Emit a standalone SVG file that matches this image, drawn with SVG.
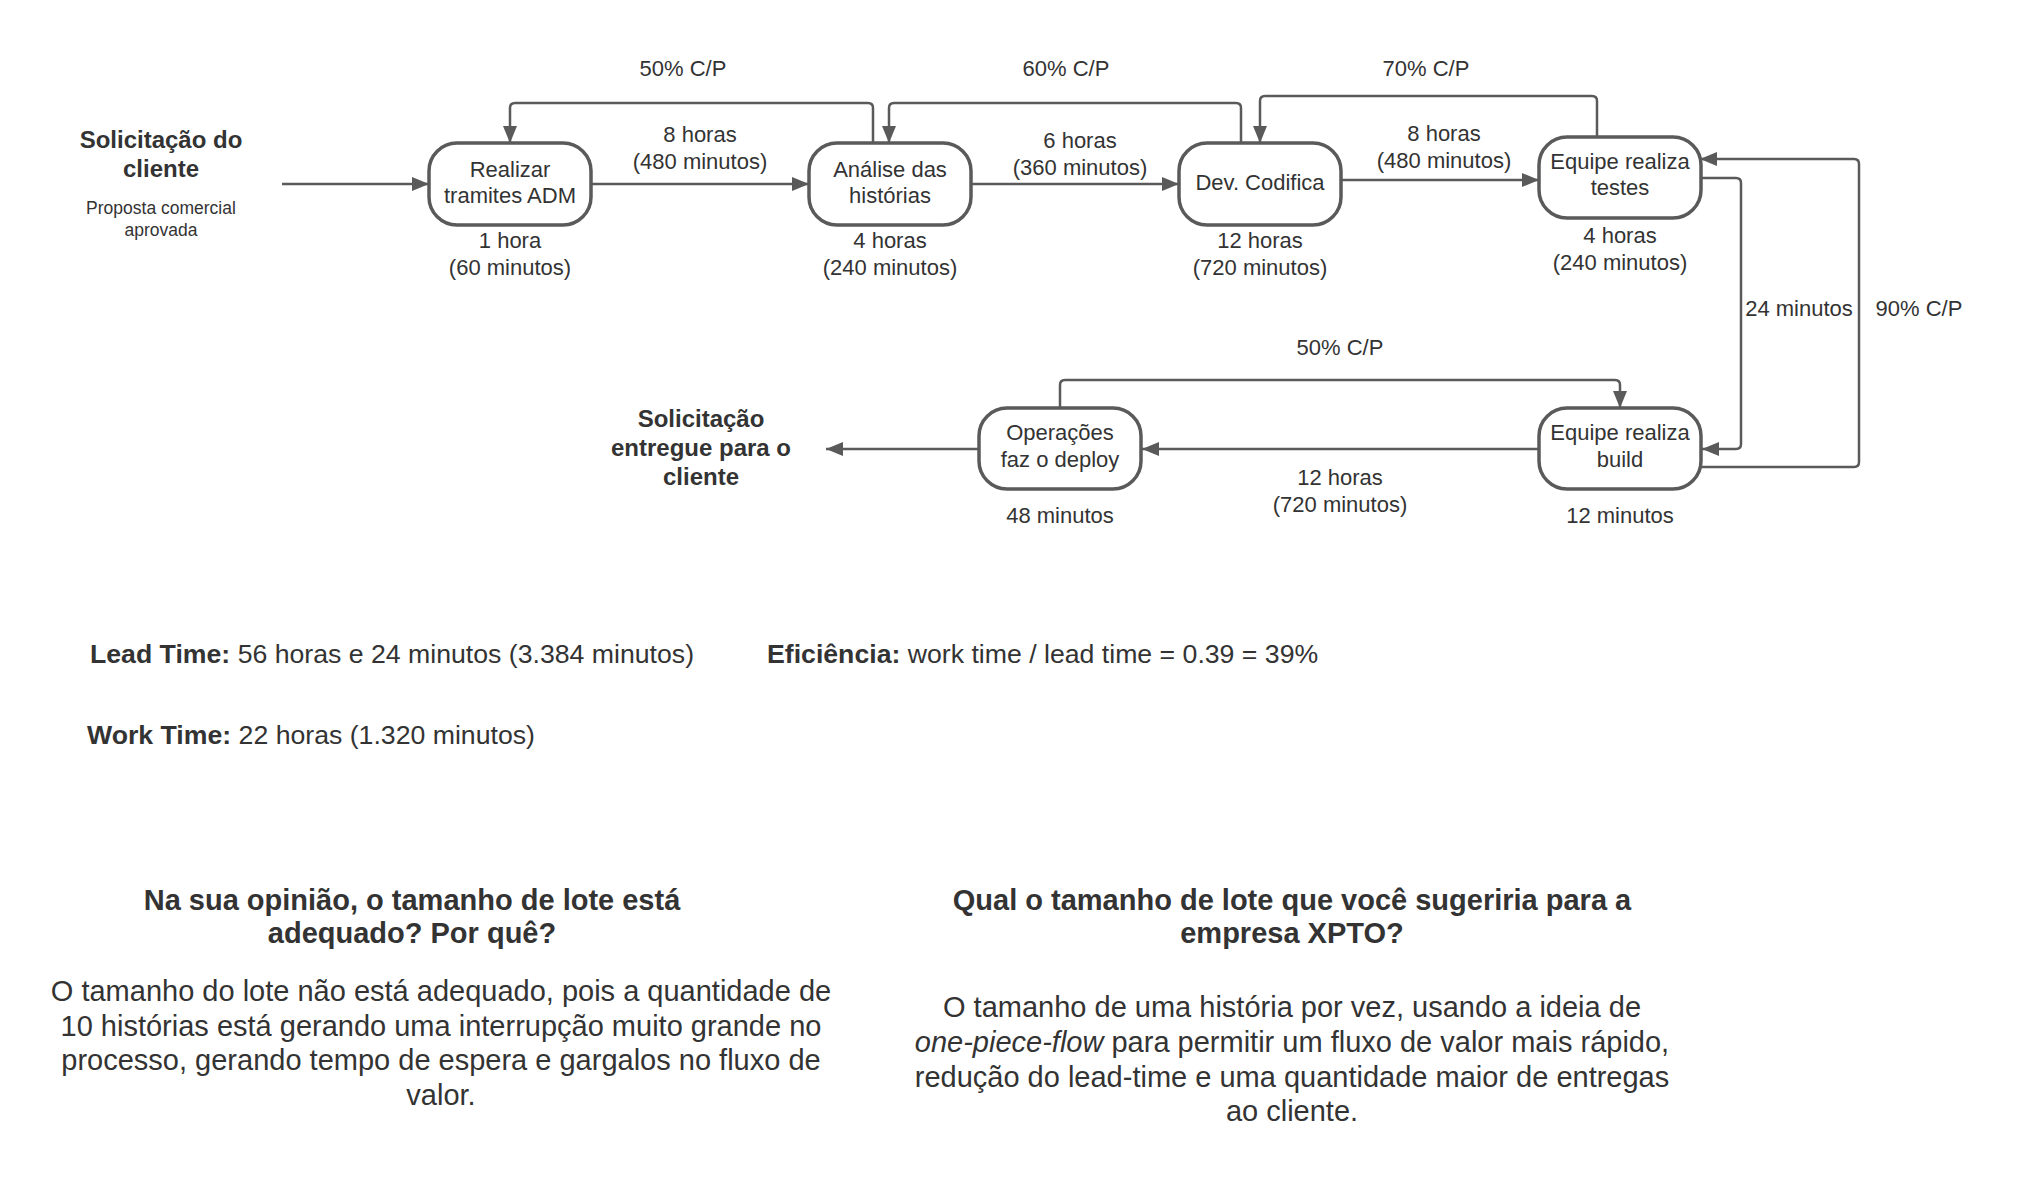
<svg xmlns="http://www.w3.org/2000/svg" width="2040" height="1203" viewBox="0 0 2040 1203">
<style>
text{font-family:"Liberation Sans",Arial,sans-serif;fill:#333333}
.lbl{font-size:22px;text-anchor:middle}
.hd{font-size:24px;font-weight:bold;text-anchor:middle}
.sub{font-size:17.5px;text-anchor:middle}
.big{font-size:26.67px}
.q{font-size:29px;font-weight:bold;text-anchor:middle}
.p{font-size:29px;text-anchor:middle}
.node{fill:#ffffff;stroke:#5a5a5a;stroke-width:3.5}
.con{fill:none;stroke:#5a5a5a;stroke-width:2.5;marker-end:url(#ah)}
</style>
<defs>
<marker id="ah" markerUnits="userSpaceOnUse" markerWidth="18" markerHeight="14" refX="17" refY="7" orient="auto">
<path d="M0,0 L17,7 L0,14 z" fill="#5a5a5a"/>
</marker>
</defs>
<rect width="2040" height="1203" fill="#ffffff"/>

<g id="connectors">
<path class="con" d="M282,184 H429"/>
<path class="con" d="M591,184 H809"/>
<path class="con" d="M971,184 H1179"/>
<path class="con" d="M1341,180 H1539"/>
<path class="con" d="M873,143 V108 Q873,103 868,103 H515 Q510,103 510,108 V143"/>
<path class="con" d="M1241,143 V108 Q1241,103 1236,103 H894 Q889,103 889,108 V143"/>
<path class="con" d="M1597,137 V101 Q1597,96 1592,96 H1265 Q1260,96 1260,101 V143"/>
<path class="con" d="M1701,178 H1736 Q1741,178 1741,183 V444 Q1741,449 1736,449 H1702"/>
<path class="con" d="M1700,467 H1854 Q1859,467 1859,462 V164 Q1859,159 1854,159 H1700"/>
<path class="con" d="M1539,449 H1142"/>
<path class="con" d="M1060,408 V385 Q1060,380 1065,380 H1615 Q1620,380 1620,385 V408"/>
<path class="con" d="M979,449 H826"/>
<text class="lbl" x="683" y="76">50% C/P</text>
<text class="lbl" x="1066" y="76">60% C/P</text>
<text class="lbl" x="1426" y="76">70% C/P</text>
<text class="lbl" x="700" y="142">8 horas</text>
<text class="lbl" x="700" y="169">(480 minutos)</text>
<text class="lbl" x="1080" y="148">6 horas</text>
<text class="lbl" x="1080" y="175">(360 minutos)</text>
<text class="lbl" x="1444" y="141">8 horas</text>
<text class="lbl" x="1444" y="168">(480 minutos)</text>
<text class="lbl" x="1799" y="316">24 minutos</text>
<text class="lbl" x="1919" y="316">90% C/P</text>
<text class="lbl" x="1340" y="355">50% C/P</text>
<text class="lbl" x="1340" y="485">12 horas</text>
<text class="lbl" x="1340" y="512">(720 minutos)</text>
</g>

<g id="start">
<text class="hd" x="161" y="148">Solicitação do</text>
<text class="hd" x="161" y="177">cliente</text>
<text class="sub" x="161" y="214">Proposta comercial</text>
<text class="sub" x="161" y="236">aprovada</text>
</g>

<g id="n-realizar">
<rect class="node" x="429" y="143" width="162" height="82" rx="28" ry="28"/>
<text class="lbl" x="510" y="177">Realizar</text>
<text class="lbl" x="510" y="203">tramites ADM</text>
<text class="lbl" x="510" y="248">1 hora</text>
<text class="lbl" x="510" y="275">(60 minutos)</text>
</g>

<g id="n-analise">
<rect class="node" x="809" y="143" width="162" height="82" rx="28" ry="28"/>
<text class="lbl" x="890" y="177">Análise das</text>
<text class="lbl" x="890" y="203">histórias</text>
<text class="lbl" x="890" y="248">4 horas</text>
<text class="lbl" x="890" y="275">(240 minutos)</text>
</g>

<g id="n-dev">
<rect class="node" x="1179" y="143" width="162" height="82" rx="28" ry="28"/>
<text class="lbl" x="1260" y="190">Dev. Codifica</text>
<text class="lbl" x="1260" y="248">12 horas</text>
<text class="lbl" x="1260" y="275">(720 minutos)</text>
</g>

<g id="n-testes">
<rect class="node" x="1539" y="137" width="162" height="81" rx="28" ry="28"/>
<text class="lbl" x="1620" y="169">Equipe realiza</text>
<text class="lbl" x="1620" y="195">testes</text>
<text class="lbl" x="1620" y="243">4 horas</text>
<text class="lbl" x="1620" y="270">(240 minutos)</text>
</g>

<g id="n-build">
<rect class="node" x="1539" y="408" width="162" height="81" rx="28" ry="28"/>
<text class="lbl" x="1620" y="440">Equipe realiza</text>
<text class="lbl" x="1620" y="467">build</text>
<text class="lbl" x="1620" y="523">12 minutos</text>
</g>

<g id="n-deploy">
<rect class="node" x="979" y="408" width="162" height="81" rx="28" ry="28"/>
<text class="lbl" x="1060" y="440">Operações</text>
<text class="lbl" x="1060" y="467">faz o deploy</text>
<text class="lbl" x="1060" y="523">48 minutos</text>
</g>

<g id="end">
<text class="hd" x="701" y="427">Solicitação</text>
<text class="hd" x="701" y="456">entregue para o</text>
<text class="hd" x="701" y="485">cliente</text>
</g>

<g id="metrics">
<text class="big" x="90" y="663"><tspan font-weight="bold">Lead Time:</tspan> 56 horas e 24 minutos (3.384 minutos)</text>
<text class="big" x="767" y="663"><tspan font-weight="bold">Eficiência:</tspan> work time / lead time = 0.39 = 39%</text>
<text class="big" x="87" y="744"><tspan font-weight="bold">Work Time:</tspan> 22 horas (1.320 minutos)</text>
</g>

<g id="question1">
<text class="q" x="412" y="910">Na sua opinião, o tamanho de lote está</text>
<text class="q" x="412" y="943">adequado? Por quê?</text>
<text class="p" x="441" y="1001">O tamanho do lote não está adequado, pois a quantidade de</text>
<text class="p" x="441" y="1036">10 histórias está gerando uma interrupção muito grande no</text>
<text class="p" x="441" y="1070">processo, gerando tempo de espera e gargalos no fluxo de</text>
<text class="p" x="441" y="1105">valor.</text>
</g>

<g id="question2">
<text class="q" x="1292" y="910">Qual o tamanho de lote que você sugeriria para a</text>
<text class="q" x="1292" y="943">empresa XPTO?</text>
<text class="p" x="1292" y="1017">O tamanho de uma história por vez, usando a ideia de</text>
<text class="p" x="1292" y="1052"><tspan font-style="italic">one-piece-flow</tspan> para permitir um fluxo de valor mais rápido,</text>
<text class="p" x="1292" y="1087">redução do lead-time e uma quantidade maior de entregas</text>
<text class="p" x="1292" y="1121">ao cliente.</text>
</g>
</svg>
